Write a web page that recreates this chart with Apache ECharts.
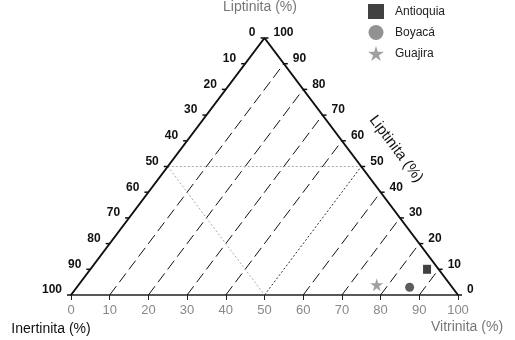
<!DOCTYPE html>
<html><head><meta charset="utf-8">
<script src="https://cdn.jsdelivr.net/npm/echarts@6/dist/echarts.min.js"></script>
<style>html,body{margin:0;padding:0;background:#fff}#c{width:515px;height:340px}</style>
</head><body><div id="c"></div>
<script>
// Ternary data: [Vitrinita, Liptinita, Inertinita] (%)
const seriesNames = ['Antioquia', 'Boyacá', 'Guajira'];
const antioquia = [[87, 10, 3]];
const boyaca = [[86, 3, 11]];
const guajira = [[77, 4, 19]];
const tickValues = [0, 10, 20, 30, 40, 50, 60, 70, 80, 90, 100];
const guideV = [10, 20, 30, 40, 60, 70, 80, 90];   // dashed iso-Vitrinita lines
const halfValue = 50;                               // dotted 50% lines
const axisTitles = ['Liptinita (%)', 'Inertinita (%)', 'Vitrinita (%)', 'Liptinita (%)'];

// ternary (V, L) -> cartesian (x, y) in a 0..100 frame
const toXY = (v, l) => [v + l / 2, l];

const chart = echarts.init(document.getElementById('c'), null, {renderer: 'canvas'});
const starPath = 'path://M50,0 L61,35 L98,35 L68,57 L79,91 L50,70 L21,91 L32,57 L2,35 L39,35 Z';
const sideFont = 'bold 12px "Liberation Sans", Arial, sans-serif';

const option = {
  animation: false,
  backgroundColor: '#fff',
  grid: {left: 71, width: 387, top: 38, height: 257, containLabel: false},
  xAxis: {
    type: 'value', min: 0, max: 100, interval: 10,
    axisLine: {show: true, lineStyle: {color: '#222', width: 1.5}},
    axisTick: {show: true, length: 5, lineStyle: {color: '#222', width: 1}},
    axisLabel: {color: '#888', fontSize: 13, margin: 9, fontFamily: '"Liberation Sans", Arial, sans-serif'},
    splitLine: {show: false}
  },
  yAxis: {type: 'value', min: 0, max: 100, show: false},
  legend: {
    orient: 'vertical', left: 363, top: -1,
    itemWidth: 16, itemHeight: 15, itemGap: 6,
    textStyle: {color: '#222', fontSize: 12, padding: [0, 0, 0, 6], fontFamily: '"Liberation Sans", Arial, sans-serif'},
    data: [
      {name: seriesNames[0], icon: 'rect', itemStyle: {color: '#111'}},
      {name: seriesNames[1], icon: 'circle', itemStyle: {color: '#777'}},
      {name: seriesNames[2], icon: starPath, itemStyle: {color: '#888'}}
    ]
  },
  graphic: [
    {type: 'text', x: 260, y: 7, style: {text: axisTitles[0], fill: '#777', font: '14px "Liberation Sans", Arial, sans-serif', align: 'center', verticalAlign: 'middle'}},
    {type: 'text', x: 51, y: 329, style: {text: axisTitles[1], fill: '#111', font: '14px "Liberation Sans", Arial, sans-serif', align: 'center', verticalAlign: 'middle'}},
    {type: 'text', x: 467, y: 327, style: {text: axisTitles[2], fill: '#777', font: '14px "Liberation Sans", Arial, sans-serif', align: 'center', verticalAlign: 'middle'}},
    {type: 'text', x: 396, y: 149, rotation: -53.1 * Math.PI / 180, style: {text: axisTitles[3], fill: '#111', font: '15px "Liberation Sans", Arial, sans-serif', align: 'center', verticalAlign: 'middle'}}
  ],
  series: [
    {
      type: 'custom', silent: true, clip: false, z: 1,
      data: guideV.map(v => [v]),
      renderItem: (params, api) => {
        const v = api.value(0);
        const a = api.coord(toXY(v, 0));
        const b = api.coord(toXY(v, 100 - v));
        return {type: 'line', shape: {x1: a[0], y1: a[1], x2: b[0], y2: b[1]},
          style: {stroke: '#111', lineWidth: 1, lineDash: [11, 5]}};
      }
    },
    {
      type: 'line', silent: true, clip: false, symbol: 'none', z: 1,
      data: [toXY(0, halfValue), toXY(halfValue, halfValue)],
      lineStyle: {color: '#aaa', width: 1, type: [2, 2]}
    },
    {
      type: 'line', silent: true, clip: false, symbol: 'none', z: 1,
      data: [toXY(0, halfValue), toXY(halfValue, 0)],
      lineStyle: {color: '#aaa', width: 1, type: [2, 2]}
    },
    {
      type: 'line', silent: true, clip: false, symbol: 'none', z: 1,
      data: [toXY(halfValue, 0), toXY(halfValue, halfValue)],
      lineStyle: {color: '#333', width: 1, type: [2, 2]}
    },
    {
      type: 'line', silent: true, clip: false, symbol: 'none', z: 3,
      data: [toXY(0, 0), toXY(0, 100), toXY(100, 0)],
      lineStyle: {color: '#111', width: 2}
    },
    {
      // side ticks and labels: side 0 = Inertinita (left), side 1 = Liptinita (right)
      type: 'custom', silent: true, clip: false, z: 4,
      data: tickValues.map(t => [t, 0]).concat(tickValues.map(t => [t, 1])),
      renderItem: (params, api) => {
        const t = api.value(0);
        const side = api.value(1);
        let p, x1, x2, tx, align;
        if (side === 0) {
          p = api.coord(toXY(0, 100 - t));
          x1 = p[0] - 4; x2 = p[0]; tx = p[0] - 9; align = 'right';
        } else {
          p = api.coord(toXY(100 - t, t));
          x1 = p[0]; x2 = p[0] + 4; tx = p[0] + 9; align = 'left';
        }
        return {type: 'group', children: [
          {type: 'line', shape: {x1: x1, y1: p[1], x2: x2, y2: p[1]}, style: {stroke: '#111', lineWidth: 1.5}},
          {type: 'text', x: tx, y: p[1] - 5, style: {text: String(t), fill: '#111', font: sideFont, align: align, verticalAlign: 'middle'}}
        ]};
      }
    },
    {
      name: seriesNames[0], type: 'scatter', z: 5, symbol: 'rect', symbolSize: [8, 9],
      itemStyle: {color: '#111'},
      data: antioquia.map(d => toXY(d[0], d[1]))
    },
    {
      name: seriesNames[1], type: 'scatter', z: 5, symbol: 'circle', symbolSize: 9,
      itemStyle: {color: '#333'},
      data: boyaca.map(d => toXY(d[0], d[1]))
    },
    {
      name: seriesNames[2], type: 'scatter', z: 5, symbol: starPath, symbolSize: 13,
      itemStyle: {color: '#888'},
      data: guajira.map(d => toXY(d[0], d[1]))
    }
  ]
};
chart.setOption(option);
</script>
</body></html>
